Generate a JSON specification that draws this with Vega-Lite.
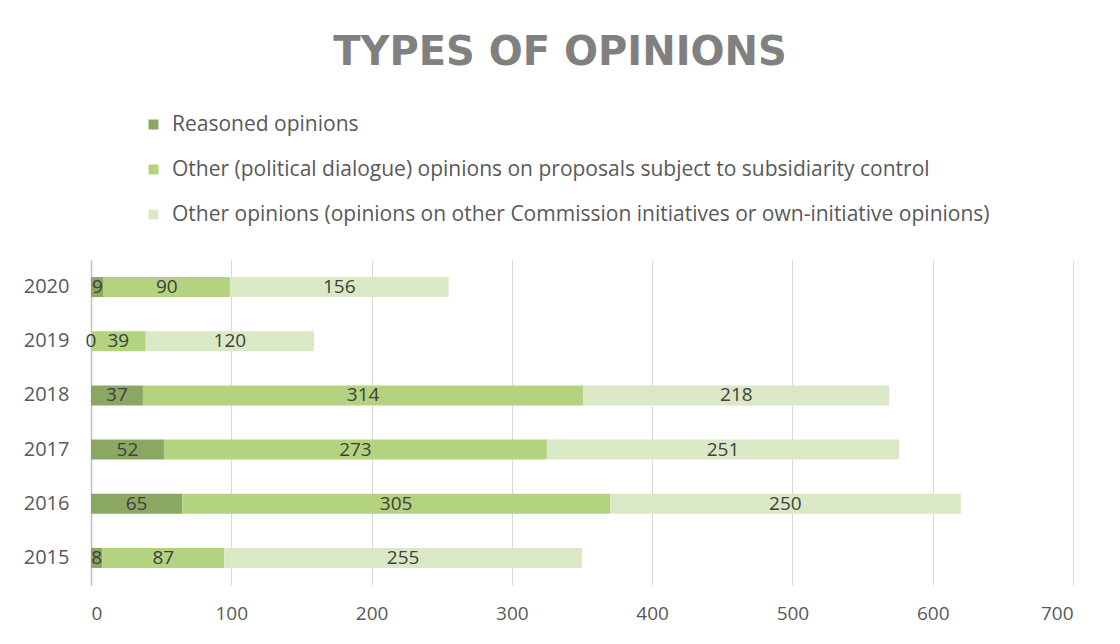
{
  "$schema": "https://vega.github.io/schema/vega-lite/v6.json",
  "autosize": "none",
  "width": 982,
  "height": 325,
  "padding": {"left": 91, "top": 260, "right": 47, "bottom": 59},
  "background": "white",
  "config": {
    "font": "Open Sans",
    "view": {"stroke": null}
  },
  "title": {
    "text": "TYPES OF OPINIONS",
    "fontSize": 40,
    "fontWeight": "bold",
    "color": "#808080",
    "anchor": "middle",
    "frame": "group",
    "offset": 41,
    "dx": -22,
    "font": "DejaVu Sans"
  },
  "data": {
    "values": [
      {"year": "2015", "type": "Reasoned opinions", "order": 1, "value": 8},
      {"year": "2015", "type": "Other (political dialogue) opinions on proposals subject to subsidiarity control", "order": 2, "value": 87},
      {"year": "2015", "type": "Other opinions (opinions on other Commission initiatives or own-initiative opinions)", "order": 3, "value": 255},
      {"year": "2016", "type": "Reasoned opinions", "order": 1, "value": 65},
      {"year": "2016", "type": "Other (political dialogue) opinions on proposals subject to subsidiarity control", "order": 2, "value": 305},
      {"year": "2016", "type": "Other opinions (opinions on other Commission initiatives or own-initiative opinions)", "order": 3, "value": 250},
      {"year": "2017", "type": "Reasoned opinions", "order": 1, "value": 52},
      {"year": "2017", "type": "Other (political dialogue) opinions on proposals subject to subsidiarity control", "order": 2, "value": 273},
      {"year": "2017", "type": "Other opinions (opinions on other Commission initiatives or own-initiative opinions)", "order": 3, "value": 251},
      {"year": "2018", "type": "Reasoned opinions", "order": 1, "value": 37},
      {"year": "2018", "type": "Other (political dialogue) opinions on proposals subject to subsidiarity control", "order": 2, "value": 314},
      {"year": "2018", "type": "Other opinions (opinions on other Commission initiatives or own-initiative opinions)", "order": 3, "value": 218},
      {"year": "2019", "type": "Reasoned opinions", "order": 1, "value": 0},
      {"year": "2019", "type": "Other (political dialogue) opinions on proposals subject to subsidiarity control", "order": 2, "value": 39},
      {"year": "2019", "type": "Other opinions (opinions on other Commission initiatives or own-initiative opinions)", "order": 3, "value": 120},
      {"year": "2020", "type": "Reasoned opinions", "order": 1, "value": 9},
      {"year": "2020", "type": "Other (political dialogue) opinions on proposals subject to subsidiarity control", "order": 2, "value": 90},
      {"year": "2020", "type": "Other opinions (opinions on other Commission initiatives or own-initiative opinions)", "order": 3, "value": 156}
    ]
  },
  "transform": [
    {"stack": "value", "groupby": ["year"], "sort": [{"field": "order"}], "as": ["v0", "v1"]},
    {"calculate": "(datum.v0 + datum.v1) / 2", "as": "vmid"}
  ],
  "encoding": {
    "y": {
      "field": "year",
      "type": "nominal",
      "sort": "descending",
      "scale": {"paddingInner": 0.63, "paddingOuter": 0.315},
      "axis": {
        "title": null,
        "ticks": false,
        "labelFontSize": 20,
        "labelColor": "#595959",
        "labelPadding": 22,
        "domainColor": "#bfbfbf",
        "domainWidth": 1.5,
        "grid": false
      }
    }
  },
  "layer": [
    {
      "mark": {"type": "bar"},
      "encoding": {
        "x": {
          "field": "v0",
          "type": "quantitative",
          "scale": {"domain": [0, 700]},
          "axis": {
            "title": null,
            "values": [0, 100, 200, 300, 400, 500, 600, 700],
            "ticks": false,
            "domain": false,
            "grid": true,
            "gridColor": "#d9d9d9",
            "labelFontSize": 19,
            "labelColor": "#595959",
            "labelPadding": 19
          }
        },
        "x2": {"field": "v1"},
        "color": {
          "field": "type",
          "type": "nominal",
          "sort": ["Reasoned opinions", "Other (political dialogue) opinions on proposals subject to subsidiarity control", "Other opinions (opinions on other Commission initiatives or own-initiative opinions)"],
          "scale": {
            "domain": ["Reasoned opinions", "Other (political dialogue) opinions on proposals subject to subsidiarity control", "Other opinions (opinions on other Commission initiatives or own-initiative opinions)"],
            "range": ["#8aa862", "#b3d37e", "#dbe8c6"]
          },
          "legend": {
            "title": null,
            "orient": "none",
            "legendX": 52,
            "legendY": -146,
            "direction": "vertical",
            "symbolType": "square",
            "symbolSize": 100,
            "labelFontSize": 21,
            "labelOffset": 8,
            "labelColor": "#595959",
            "rowPadding": 23,
            "labelLimit": 1000
          }
        }
      }
    },
    {
      "mark": {"type": "text", "fontSize": 19, "color": "#404040"},
      "encoding": {
        "x": {"field": "vmid", "type": "quantitative"},
        "text": {"field": "value", "type": "quantitative"}
      }
    }
  ]
}
